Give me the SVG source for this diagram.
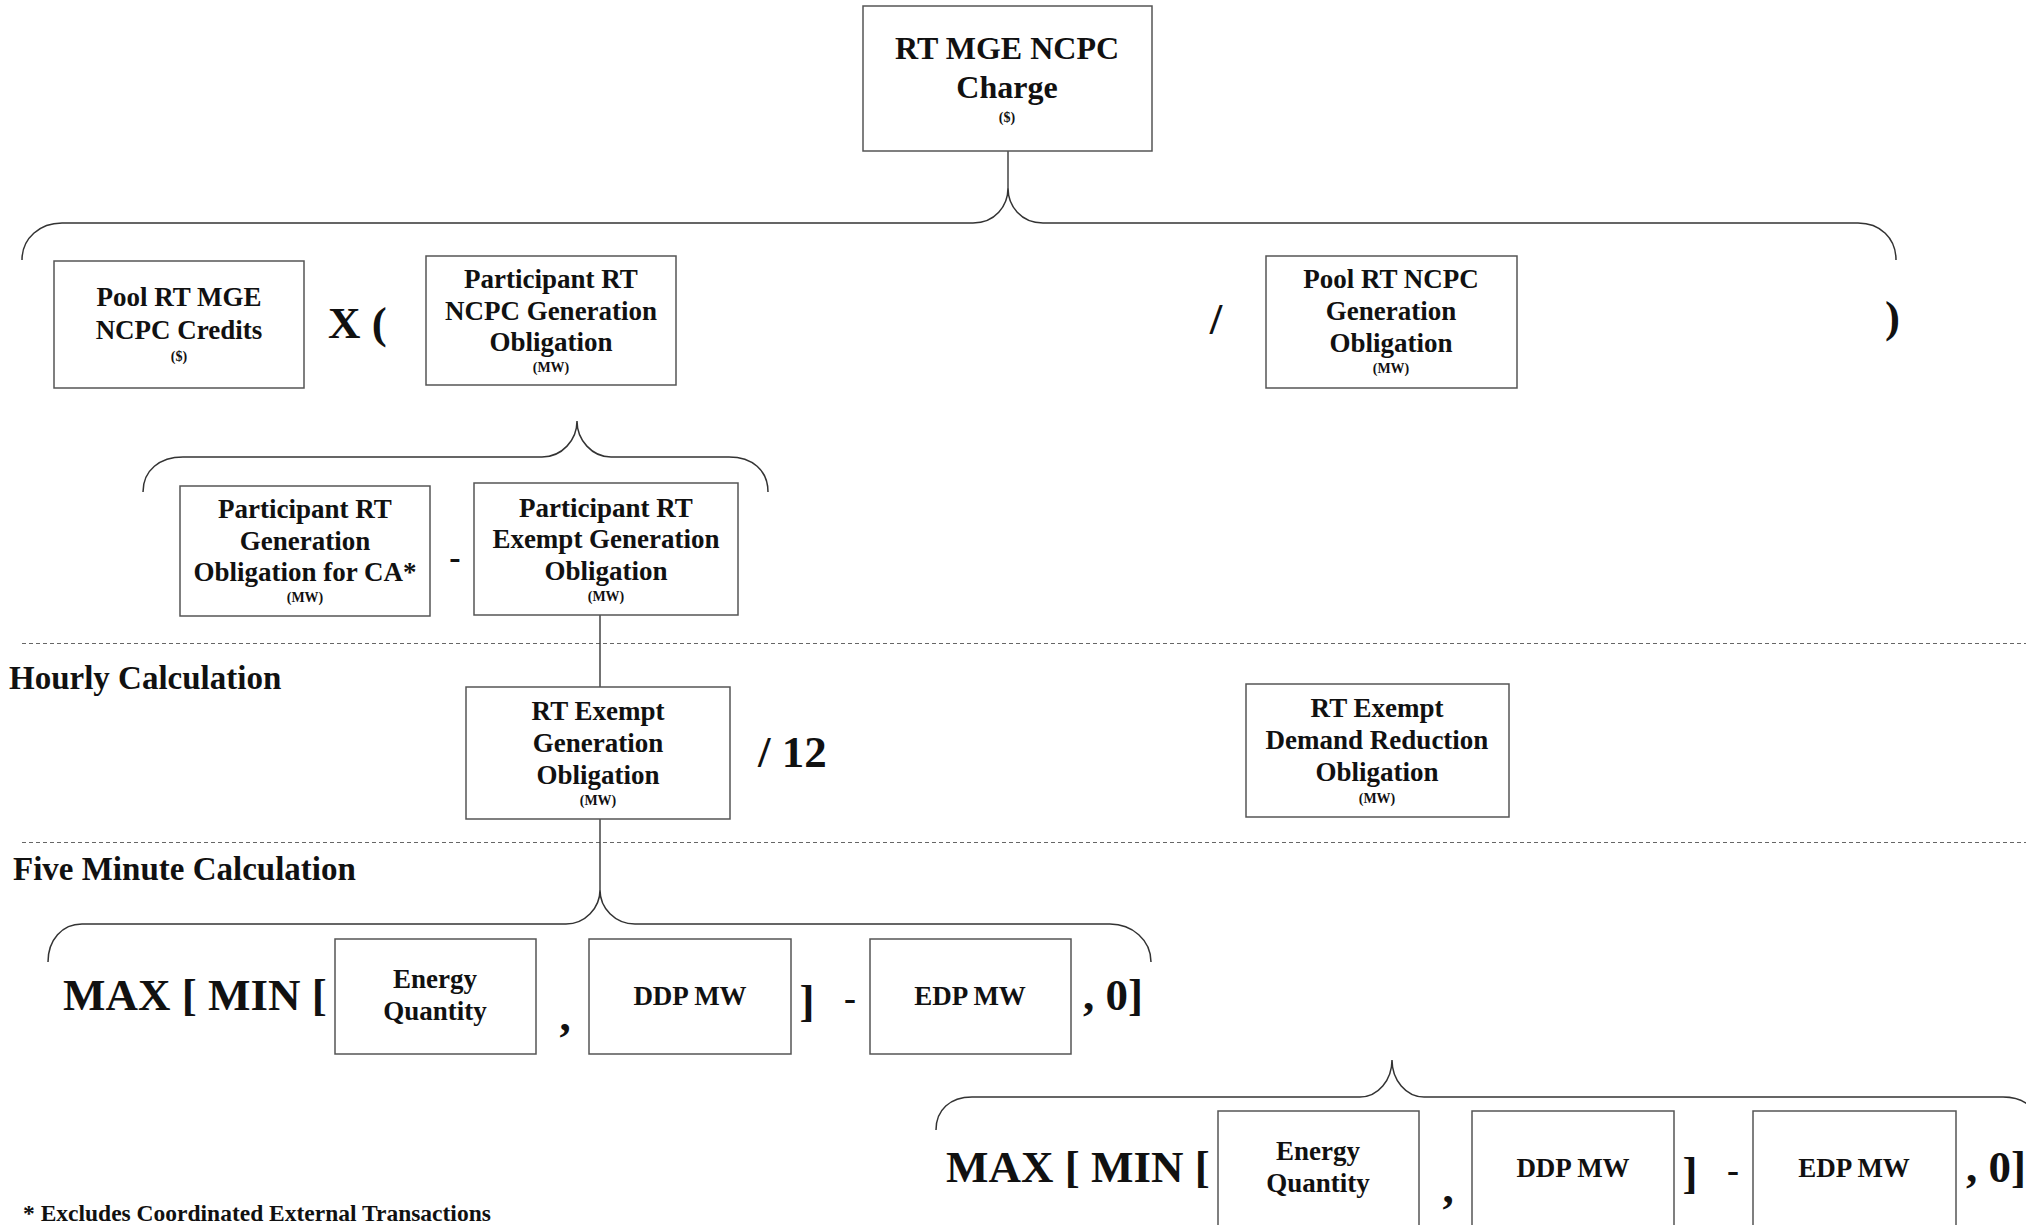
<svg xmlns="http://www.w3.org/2000/svg" width="2026" height="1225" viewBox="0 0 2026 1225">
<style>
text{font-family:"Liberation Serif","Times New Roman",serif;font-weight:bold;fill:#111}
.box{fill:#fff;stroke:#555;stroke-width:1.5}
.t{font-size:27px;text-anchor:middle}
.tl{font-size:32px;text-anchor:middle}
.u{font-size:14px;text-anchor:middle}
.op{font-size:45px}
.sec{font-size:33px}
.brace{fill:none;stroke:#333;stroke-width:1.5}
.conn{fill:none;stroke:#444;stroke-width:1.5}
.dash{stroke:#666;stroke-width:1;stroke-dasharray:4 3}
</style>
<rect width="2026" height="1225" fill="#fff"/>

<g id="separators">
<line class="dash" x1="22" y1="643.5" x2="2026" y2="643.5"/>
<line class="dash" x1="22" y1="842.5" x2="2026" y2="842.5"/>
<text class="sec" x="9" y="689">Hourly Calculation</text>
<text class="sec" x="13" y="880">Five Minute Calculation</text>
</g>

<g id="connectors">
<line class="conn" x1="1008" y1="151" x2="1008" y2="188"/>
<path class="brace" d="M22,260 C22,238 40,223 62,223 L973,223 C995,223 1008,206 1008,188 C1008,206 1021,223 1043,223 L1858,223 C1880,223 1896,238 1896,260"/>
<path class="brace" d="M143,492 C143,470 160,457 183,457 L542,457 C562,457 577,440 577,421 C577,440 592,457 611,457 L729,457 C752,457 768,470 768,492"/>
<line class="conn" x1="600" y1="615" x2="600" y2="687"/>
<line class="conn" x1="600" y1="819" x2="600" y2="890"/>
<path class="brace" d="M48,962 C48,940 62,924 82,924 L566,924 C585,924 600,908 600,890 C600,908 615,924 635,924 L1110,924 C1132,924 1151,940 1151,962"/>
<path class="brace" d="M936,1130 C936,1110 950,1097 972,1097 L1360,1097 C1378,1097 1392,1080 1392,1060 C1392,1080 1406,1097 1424,1097 L2003,1097 C2025,1097 2040,1110 2040,1130"/>
</g>

<g id="node-charge">
<rect class="box" x="863" y="6" width="289" height="145"/>
<text class="tl" x="1007" y="59">RT MGE NCPC</text>
<text class="tl" x="1007" y="98">Charge</text>
<text class="u" x="1007" y="122">($)</text>
</g>

<g id="node-pool-credits">
<rect class="box" x="54" y="261" width="250" height="127"/>
<text class="t" x="179" y="306">Pool RT MGE</text>
<text class="t" x="179" y="339">NCPC Credits</text>
<text class="u" x="179" y="361">($)</text>
</g>

<text class="op" x="328" y="338">X (</text>

<g id="node-participant-ncpc">
<rect class="box" x="426" y="256" width="250" height="129"/>
<text class="t" x="551" y="288">Participant RT</text>
<text class="t" x="551" y="320">NCPC Generation</text>
<text class="t" x="551" y="351">Obligation</text>
<text class="u" x="551" y="372">(MW)</text>
</g>

<text class="op" x="1216" y="334" text-anchor="middle">/</text>

<g id="node-pool-ncpc">
<rect class="box" x="1266" y="256" width="251" height="132"/>
<text class="t" x="1391" y="288">Pool RT NCPC</text>
<text class="t" x="1391" y="320">Generation</text>
<text class="t" x="1391" y="352">Obligation</text>
<text class="u" x="1391" y="373">(MW)</text>
</g>

<text class="op" x="1885" y="332">)</text>

<g id="node-participant-ca">
<rect class="box" x="180" y="486" width="250" height="130"/>
<text class="t" x="305" y="518">Participant RT</text>
<text class="t" x="305" y="550">Generation</text>
<text class="t" x="305" y="581">Obligation for CA*</text>
<text class="u" x="305" y="602">(MW)</text>
</g>

<text x="455" y="569" style="font-size:34px" text-anchor="middle">-</text>

<g id="node-participant-exempt">
<rect class="box" x="474" y="483" width="264" height="132"/>
<text class="t" x="606" y="517">Participant RT</text>
<text class="t" x="606" y="548">Exempt Generation</text>
<text class="t" x="606" y="580">Obligation</text>
<text class="u" x="606" y="601">(MW)</text>
</g>

<g id="node-rt-exempt-gen">
<rect class="box" x="466" y="687" width="264" height="132"/>
<text class="t" x="598" y="720">RT Exempt</text>
<text class="t" x="598" y="752">Generation</text>
<text class="t" x="598" y="784">Obligation</text>
<text class="u" x="598" y="805">(MW)</text>
</g>

<text class="op" x="758" y="767">/ 12</text>

<g id="node-rt-exempt-dr">
<rect class="box" x="1246" y="684" width="263" height="133"/>
<text class="t" x="1377" y="717">RT Exempt</text>
<text class="t" x="1377" y="749">Demand Reduction</text>
<text class="t" x="1377" y="781">Obligation</text>
<text class="u" x="1377" y="803">(MW)</text>
</g>

<g id="formula-1">
<text class="op" x="63" y="1010">MAX [ MIN [</text>
<g id="node-energy-1">
<rect class="box" x="335" y="939" width="201" height="115"/>
<text class="t" x="435" y="988">Energy</text>
<text class="t" x="435" y="1020">Quantity</text>
</g>
<text class="op" x="565" y="1031" text-anchor="middle">,</text>
<g id="node-ddp-1">
<rect class="box" x="589" y="939" width="202" height="115"/>
<text class="t" x="690" y="1005">DDP MW</text>
</g>
<text class="op" x="807" y="1016" text-anchor="middle">]</text>
<text x="850" y="1010" style="font-size:36px" text-anchor="middle">-</text>
<g id="node-edp-1">
<rect class="box" x="870" y="939" width="201" height="115"/>
<text class="t" x="970" y="1005">EDP MW</text>
</g>
<text class="op" x="1083" y="1010">, 0]</text>
</g>

<g id="formula-2">
<text class="op" x="946" y="1182">MAX [ MIN [</text>
<g id="node-energy-2">
<rect class="box" x="1218" y="1111" width="201" height="115"/>
<text class="t" x="1318" y="1160">Energy</text>
<text class="t" x="1318" y="1192">Quantity</text>
</g>
<text class="op" x="1448" y="1203" text-anchor="middle">,</text>
<g id="node-ddp-2">
<rect class="box" x="1472" y="1111" width="202" height="115"/>
<text class="t" x="1573" y="1177">DDP MW</text>
</g>
<text class="op" x="1690" y="1188" text-anchor="middle">]</text>
<text x="1733" y="1182" style="font-size:36px" text-anchor="middle">-</text>
<g id="node-edp-2">
<rect class="box" x="1753" y="1111" width="203" height="115"/>
<text class="t" x="1854" y="1177">EDP MW</text>
</g>
<text class="op" x="1966" y="1182">, 0]</text>
</g>

<text x="23" y="1221" style="font-size:23.5px">* Excludes Coordinated External Transactions</text>
</svg>
